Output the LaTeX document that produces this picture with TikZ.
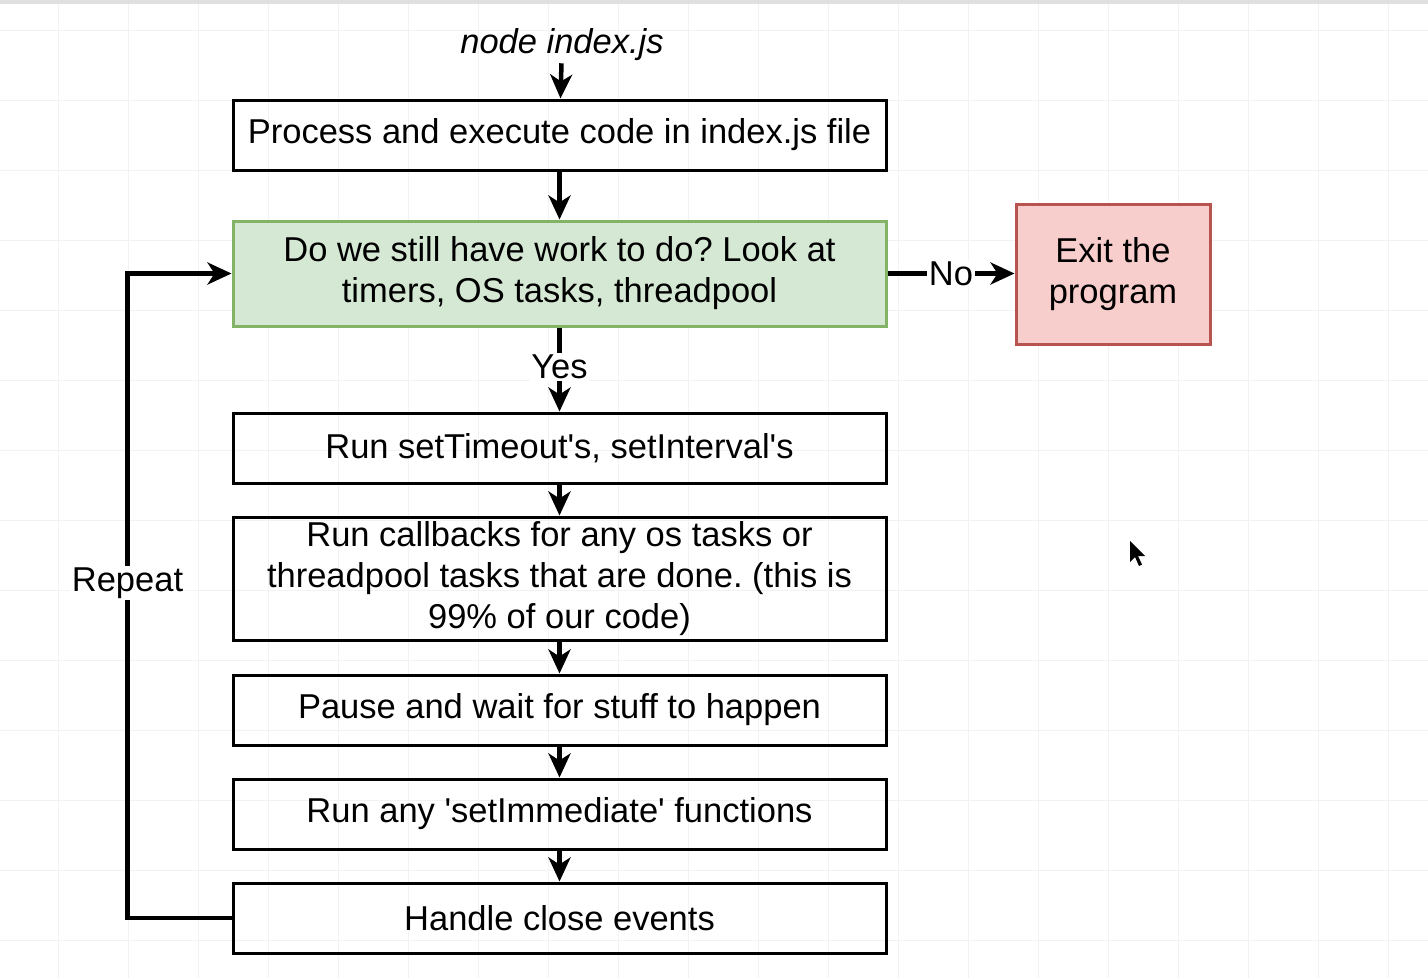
\documentclass[tikz,border=0pt]{standalone}
\usepackage{fontspec}
\setmainfont{Liberation Sans}
\usetikzlibrary{arrows.meta}
\definecolor{greenfill}{HTML}{D5E8D4}
\definecolor{greenline}{HTML}{82B366}
\definecolor{redfill}{HTML}{F8CECC}
\definecolor{redline}{HTML}{B85450}
\frenchspacing

\begin{document}
\begin{tikzpicture}[x=1pt, y=-1pt,
  stepbox/.style={draw, line width=3pt, minimum width=653pt, minimum height=70pt, inner sep=0pt, align=center, font=\fontsize{34.5}{41}\selectfont},
  flow/.style={line width=4.5pt, -{Stealth[length=24pt, width=22pt, inset=7pt]}},
  tag/.style={fill=white, inner sep=1.5pt, font=\fontsize{34.5}{41}\selectfont}]
\useasboundingbox (0,0) rectangle (1428,978);
\fill[white] (0,0) rectangle (1428,978);
\foreach \x in {58,128,...,1428} \draw[gray!10, line width=1pt] (\x,0) -- (\x,978);
\foreach \y in {30,100,...,978} \draw[gray!10, line width=1pt] (0,\y) -- (1428,\y);
\fill[gray!25] (0,0) rectangle (1428,4);

\node[inner sep=2pt, font=\itshape\fontsize{34.5}{41}\selectfont] (start) at (562,45) {node index.js};
\node[stepbox] (process) at (559.5,135) {Process and execute code in index.js file};
\node[stepbox, minimum height=105pt, fill=greenfill, draw=greenline] (check) at (559.5,273.5) {Do we still have work to do? Look at\\timers, OS tasks, threadpool};
\node[stepbox, minimum width=194pt, minimum height=140pt, fill=redfill, draw=redline] (exit) at (1113,274) {Exit the\\program};
\node[stepbox] (timers) at (559.5,448) {Run setTimeout\textquotesingle s, setInterval\textquotesingle s};
\node[stepbox, minimum height=123pt] (callbacks) at (559.5,578.5) {Run callbacks for any os tasks or\\threadpool tasks that are done. (this is\\99\% of our code)};
\node[stepbox] (pause) at (559.5,710) {Pause and wait for stuff to happen};
\node[stepbox] (immediate) at (559.5,814) {Run any \textquotesingle setImmediate\textquotesingle{} functions};
\node[stepbox] (close) at (559.5,918) {Handle close events};

\draw[flow] (start) -- (process);
\draw[flow] (process) -- (check);
\draw[flow] (check.east) -- node[tag] {No} (exit.west |- check.east);
\draw[flow] (check) -- node[tag, pos=0.47] {Yes} (timers);
\draw[flow] (timers) -- (callbacks);
\draw[flow] (callbacks) -- (pause);
\draw[flow] (pause) -- (immediate);
\draw[flow] (immediate) -- (close);
\draw[flow] (close.west) -- ++(-104,0) |- node[tag, pos=0.26] {Repeat} (check.west);

\fill (1130,541) -- (1130,562) -- (1135,557) -- (1139,566) -- (1142,564.5) -- (1138,556) -- (1145,556) -- cycle;
\end{tikzpicture}
\end{document}
